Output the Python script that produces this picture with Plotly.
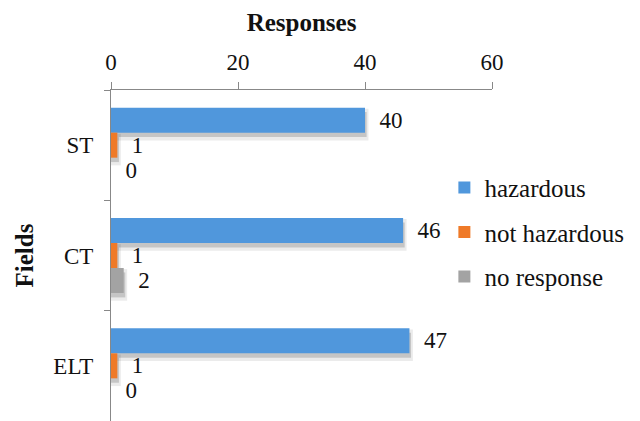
import plotly.graph_objects as go

fields = ["ST", "CT", "ELT"]
hazardous = [40, 46, 47]
not_hazardous = [1, 1, 1]
no_response = [0, 2, 0]
series_names = ["hazardous", "not hazardous", "no response"]
colors = ["#5097DC", "#EF7A28", "#A3A3A3"]
x_ticks = [0, 20, 40, 60]

FONT = "Liberation Serif"
FS = 23
BARGAP = 0.32

series = [hazardous, not_hazardous, no_response]

fig = go.Figure()
for name, vals, col in zip(series_names, series, colors):
    fig.add_trace(go.Bar(
        y=fields, x=vals, orientation="h", name=name,
        marker=dict(color=col, line=dict(width=0)),
        text=vals, texttemplate="  %{x}", textposition="outside",
        textfont=dict(family=FONT, size=FS, color="#111"),
        cliponaxis=False, legendgroup=name,
    ))

# soft drop shadows under each bar, derived from the bar values
n = len(series)
bw = (1 - BARGAP) / n
shapes = []
for k, vals in enumerate(series):
    for i, v in enumerate(vals):
        if v <= 0:
            continue
        c = i - (1 - BARGAP) / 2 + (k + 0.5) * bw
        for grow, alpha in [(0.03, 0.08), (0.0, 0.16)]:
            shapes.append(dict(
                type="rect", xref="x", yref="y", layer="below",
                x0=0, x1=v + 0.25 + grow * 10,
                y0=c - bw / 2 + 0.04 - grow, y1=c + bw / 2 + 0.04 + grow,
                fillcolor=f"rgba(0,0,0,{alpha})", line=dict(width=0),
            ))

fig.update_layout(
    width=640, height=421,
    margin=dict(l=111, r=148, t=90, b=0),
    paper_bgcolor="white", plot_bgcolor="white",
    barmode="group", bargap=BARGAP, bargroupgap=0,
    font=dict(family=FONT, size=FS, color="#111"),
    shapes=shapes,
    legend=dict(x=0.875, y=0.57, xanchor="left", yanchor="middle",
                font=dict(family=FONT, size=25), tracegroupgap=9,
                bgcolor="rgba(0,0,0,0)"),
    xaxis=dict(side="top", range=[0, 60], tickvals=x_ticks,
               showgrid=False, zeroline=False,
               showline=True, linecolor="#888", linewidth=1,
               ticks="outside", ticklen=7, tickcolor="#888",
               tickfont=dict(family=FONT, size=FS), ticklabelstandoff=3,
               title=dict(text="<b>Responses</b>", font=dict(family=FONT, size=25), standoff=11)),
    yaxis=dict(autorange="reversed", showgrid=False,
               showline=True, linecolor="#888", linewidth=1,
               ticks="outside", ticklen=6, tickcolor="#888", tickson="boundaries",
               tickfont=dict(family=FONT, size=FS), ticklabelstandoff=12,
               title=dict(text="<b>Fields</b>", font=dict(family=FONT, size=25), standoff=12)),
)

fig.write_html("out.html")
